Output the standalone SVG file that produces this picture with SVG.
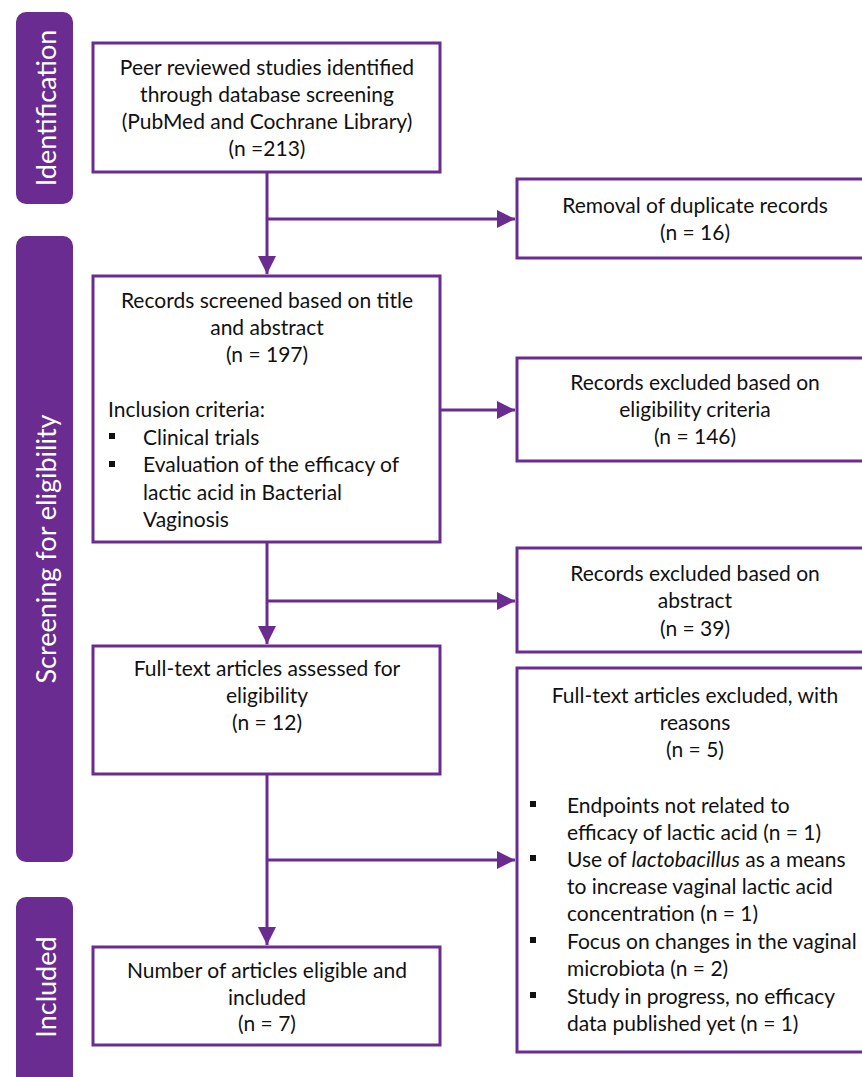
<svg xmlns="http://www.w3.org/2000/svg" width="862" height="1077" viewBox="0 0 862 1077">
<defs>
<style>
.side{fill:#6a2c91}
.sl{fill:#ffffff;font-family:Lato,"Open Sans",sans-serif;font-size:27px;text-anchor:middle}
.box{fill:#ffffff;stroke:#6a2c91;stroke-width:3}
.t{fill:#111111;font-family:Lato,"Open Sans",sans-serif;font-size:21px}
.c{text-anchor:middle}
.ln{stroke:#6a2c91;stroke-width:3;fill:none}
.bul{fill:#111111}
</style>
<marker id="ah" markerWidth="6" markerHeight="6" refX="6" refY="3" orient="auto" markerUnits="strokeWidth">
<path d="M0,0 L6,3 L0,6 Z" fill="#6a2c91"/>
</marker>
</defs>
<rect width="862" height="1077" fill="#ffffff"/>
<g id="stage-identification">
<rect class="side" x="16" y="12" width="57" height="192" rx="10"/>
<text class="sl" transform="translate(56,108) rotate(-90)">Identification</text>
</g>
<g id="stage-screening">
<rect class="side" x="16" y="236" width="57" height="626" rx="10"/>
<text class="sl" transform="translate(56,549) rotate(-90)">Screening for eligibility</text>
</g>
<g id="stage-included">
<rect class="side" x="16" y="897" width="57" height="200" rx="10"/>
<text class="sl" transform="translate(56,987) rotate(-90)">Included</text>
</g>
<g id="connectors">
<line class="ln" x1="267" y1="172" x2="267" y2="274" marker-end="url(#ah)"/>
<line class="ln" x1="267" y1="219" x2="515" y2="219" marker-end="url(#ah)"/>
<line class="ln" x1="440" y1="410" x2="515" y2="410" marker-end="url(#ah)"/>
<line class="ln" x1="267" y1="542" x2="267" y2="644" marker-end="url(#ah)"/>
<line class="ln" x1="267" y1="601" x2="515" y2="601" marker-end="url(#ah)"/>
<line class="ln" x1="267" y1="774" x2="267" y2="945" marker-end="url(#ah)"/>
<line class="ln" x1="267" y1="860" x2="515" y2="860" marker-end="url(#ah)"/>
</g>
<g id="n-identified">
<rect class="box" x="93" y="43" width="347" height="129"/>
<text class="t c" x="267" y="75">Peer reviewed studies identified</text>
<text class="t c" x="267" y="102">through database screening</text>
<text class="t c" x="267" y="129">(PubMed and Cochrane Library)</text>
<text class="t c" x="267" y="156">(n =213)</text>
</g>
<g id="n-duplicates">
<rect class="box" x="517" y="179" width="360" height="79"/>
<text class="t c" x="695" y="213">Removal of duplicate records</text>
<text class="t c" x="695" y="240">(n = 16)</text>
</g>
<g id="n-screened">
<rect class="box" x="93" y="276" width="347" height="266"/>
<text class="t c" x="267" y="308">Records screened based on title</text>
<text class="t c" x="267" y="335">and abstract</text>
<text class="t c" x="267" y="362">(n = 197)</text>
<text class="t" x="108" y="417">Inclusion criteria:</text>
<rect class="bul" x="109" y="433" width="6" height="6"/>
<text class="t" x="143" y="445">Clinical trials</text>
<rect class="bul" x="109" y="461" width="6" height="6"/>
<text class="t" x="143" y="472">Evaluation of the efficacy of</text>
<text class="t" x="143" y="500">lactic acid in Bacterial</text>
<text class="t" x="143" y="527">Vaginosis</text>
</g>
<g id="n-excl-eligibility">
<rect class="box" x="517" y="358" width="360" height="103"/>
<text class="t c" x="695" y="390">Records excluded based on</text>
<text class="t c" x="695" y="417">eligibility criteria</text>
<text class="t c" x="695" y="444">(n = 146)</text>
</g>
<g id="n-excl-abstract">
<rect class="box" x="517" y="548" width="360" height="104"/>
<text class="t c" x="695" y="581">Records excluded based on</text>
<text class="t c" x="695" y="608">abstract</text>
<text class="t c" x="695" y="636">(n = 39)</text>
</g>
<g id="n-fulltext">
<rect class="box" x="93" y="646" width="347" height="128"/>
<text class="t c" x="267" y="676">Full-text articles assessed for</text>
<text class="t c" x="267" y="703">eligibility</text>
<text class="t c" x="267" y="730">(n = 12)</text>
</g>
<g id="n-excl-fulltext">
<rect class="box" x="517" y="668" width="360" height="384"/>
<text class="t c" x="695" y="703">Full-text articles excluded, with</text>
<text class="t c" x="695" y="730">reasons</text>
<text class="t c" x="695" y="757">(n = 5)</text>
<rect class="bul" x="530" y="801" width="6" height="6"/>
<text class="t" x="567" y="813">Endpoints not related to</text>
<text class="t" x="567" y="840">efficacy of lactic acid (n = 1)</text>
<rect class="bul" x="530" y="855" width="6" height="6"/>
<text class="t" x="567" y="867">Use of <tspan font-style="italic">lactobacillus</tspan> as a means</text>
<text class="t" x="567" y="894">to increase vaginal lactic acid</text>
<text class="t" x="567" y="921">concentration (n = 1)</text>
<rect class="bul" x="530" y="937" width="6" height="6"/>
<text class="t" x="567" y="949">Focus on changes in the vaginal</text>
<text class="t" x="567" y="976">microbiota (n = 2)</text>
<rect class="bul" x="530" y="992" width="6" height="6"/>
<text class="t" x="567" y="1004">Study in progress, no efficacy</text>
<text class="t" x="567" y="1031">data published yet (n = 1)</text>
</g>
<g id="n-included">
<rect class="box" x="93" y="947" width="347" height="98"/>
<text class="t c" x="267" y="978">Number of articles eligible and</text>
<text class="t c" x="267" y="1005">included</text>
<text class="t c" x="267" y="1031">(n = 7)</text>
</g>
</svg>
